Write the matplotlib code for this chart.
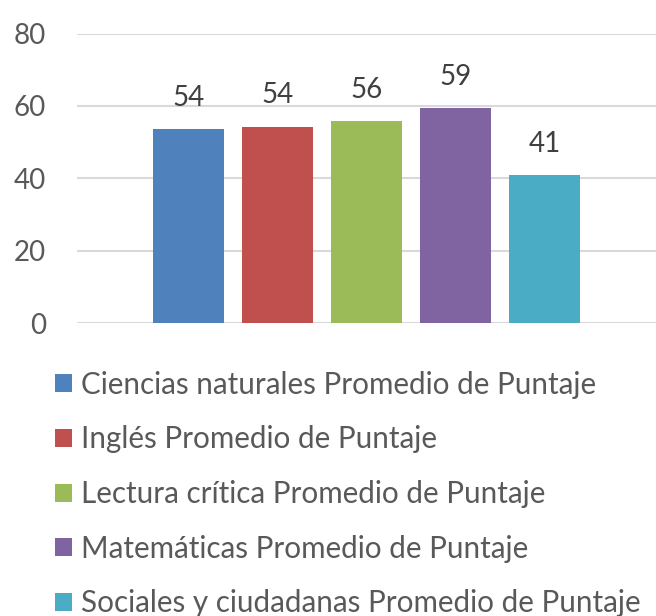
import matplotlib.pyplot as plt
from matplotlib.patches import Patch

# Promedio de puntaje por área
areas = [
    "Ciencias naturales Promedio de Puntaje",
    "Inglés Promedio de Puntaje",
    "Lectura crítica Promedio de Puntaje",
    "Matemáticas Promedio de Puntaje",
    "Sociales y ciudadanas Promedio de Puntaje",
]
puntajes = [53.5, 54.3, 55.7, 59.3, 40.8]
colores = ["#4F81BD", "#C0504D", "#9BBB59", "#8064A2", "#4BACC6"]
yticks = [0, 20, 40, 60, 80]

plt.rcParams["font.family"] = ["Lato", "DejaVu Sans"]

fig = plt.figure(figsize=(6.56, 6.16), dpi=100)
ax = fig.add_axes([0.117, 0.4756, 0.883, 0.470])

x = list(range(len(areas)))
bars = ax.bar(x, puntajes, width=0.8, color=colores, zorder=3)
ax.bar_label(bars, labels=[f"{v:.0f}" for v in puntajes], padding=13,
             fontsize=20, color="#404040")

ax.set_xlim(-1.253, 5.253)
ax.set_ylim(0, 80)
ax.set_yticks(yticks)
ax.set_xticks([])
ax.yaxis.grid(True, color="#D9D9D9", linewidth=1.5, zorder=0)
ax.tick_params(axis="y", length=0, pad=22, labelsize=20, labelcolor="#595959")
for s in ax.spines.values():
    s.set_visible(False)

handles = [Patch(facecolor=c, edgecolor="none") for c in colores]
fig.legend(handles, areas, loc="upper left", bbox_to_anchor=(0.084, 0.398),
           frameon=False, fontsize=21.3, labelcolor="#595959",
           handlelength=0.57, handleheight=0.57, handletextpad=0.3,
           labelspacing=0.9, borderaxespad=0, borderpad=0)

fig.savefig("out.png", dpi=100)
